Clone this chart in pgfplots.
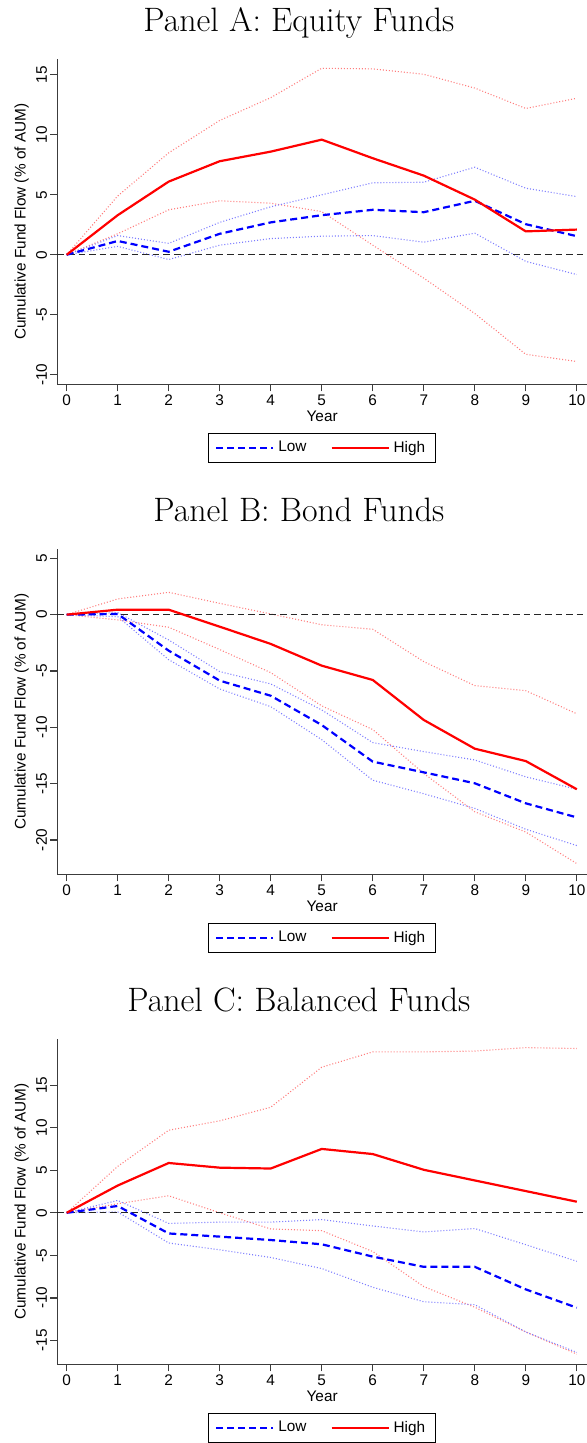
\documentclass[border=0pt]{standalone}
\usepackage{pgfplots}
\pgfplotsset{compat=1.18}
\usepackage{pgfplotstable}
\usepackage{fontspec}
\setsansfont{Liberation Sans}

\definecolor{cired}{RGB}{255,125,125}
\definecolor{ciblue}{RGB}{125,125,255}
\definecolor{axgray}{RGB}{60,60,60}

% columns: x low lowlo lowhi high highlo highhi
\pgfplotstableread{
x low lowlo lowhi high highlo highhi
0 0 0 0 0 0 0
1 1.15 0.7 1.6 3.3 1.75 4.9
2 0.25 -0.4 0.95 6.1 3.75 8.5
3 1.75 0.8 2.7 7.8 4.5 11.2
4 2.7 1.35 4.0 8.6 4.3 13.1
5 3.3 1.55 5.0 9.6 3.6 15.55
6 3.75 1.6 6.0 8.05 0.8 15.5
7 3.55 1.05 6.05 6.6 -1.95 15.05
8 4.5 1.8 7.3 4.6 -4.9 13.9
9 2.55 -0.55 5.55 1.95 -8.3 12.2
10 1.55 -1.65 4.85 2.1 -8.9 13.05
}\tabA

\pgfplotstableread{
x low lowlo lowhi high highlo highhi
0 0 0 0 0 0 0
1 0.06 -0.18 0.18 0.44 -0.47 1.39
2 -3.2 -4.0 -2.25 0.44 -1.12 1.98
3 -5.86 -6.6 -5.06 -1.07 -3.1 1.0
4 -7.2 -8.17 -6.15 -2.6 -5.15 0.06
5 -9.8 -11.1 -8.46 -4.53 -8.1 -0.9
6 -13.05 -14.7 -11.36 -5.8 -10.2 -1.3
7 -14.0 -15.9 -12.16 -9.35 -14.1 -4.17
8 -14.97 -17.2 -12.9 -11.9 -17.5 -6.3
9 -16.75 -19.05 -14.4 -13.0 -19.3 -6.75
10 -18.0 -20.5 -15.5 -15.5 -22.1 -8.8
}\tabB

\pgfplotstableread{
x low lowlo lowhi high highlo highhi
0 0 0 0 0 0 0
1 0.8 0.1 1.45 3.2 1.06 5.45
2 -2.43 -3.55 -1.25 5.85 2.0 9.7
3 -2.8 -4.35 -1.1 5.3 0 10.8
4 -3.2 -5.25 -1.1 5.2 -1.9 12.4
5 -3.7 -6.55 -0.8 7.5 -2.1 17.1
6 -5.15 -8.75 -1.55 6.9 -4.55 18.9
7 -6.35 -10.45 -2.25 5.05 -8.67 18.9
8 -6.35 -10.8 -1.85 3.8 -11.1 19.0
9 -9.0 -14.0 -3.75 2.55 -14.0 19.4
10 -11.15 -16.4 -5.7 1.3 -16.6 19.3
}\tabC

\pgfplotsset{
  panel/.style={
    width=264.85bp, height=162.5bp, scale only axis,
    anchor=south west,
    xmin=-0.184, xmax=10.2,
    xtick={0,1,...,10},
    axis x line*=bottom, axis y line*=left,
    axis line style={draw=axgray, line width=0.6bp},
    tick style={draw=axgray, line width=0.6bp},
    tick align=outside,
    major tick length=3.5bp,
    /pgf/number format/assume math mode=true,
    ticklabel style={font=\sffamily\fontsize{7.7}{9}\selectfont},
    yticklabel style={rotate=90, anchor=south, inner sep=1.5bp},
    xticklabel style={anchor=north, inner sep=1.5bp},
    every axis x label/.style={at={(axis description cs:0.5,0)}, anchor=center, yshift=-16.2bp, font=\sffamily\fontsize{7.7}{9}\selectfont},
    every axis y label/.style={at={(axis description cs:0,0.5)}, anchor=center, xshift=-17.8bp, rotate=90, font=\sffamily\fontsize{7.7}{9}\selectfont},
    xlabel={Year},
    ylabel={Cumulative Fund Flow (\% of AUM)},
    every axis title/.style={at={(axis description cs:0.456,1)}, anchor=base, yshift=13.8bp, inner sep=0pt, font=\fontsize{17}{20}\selectfont},
    legend style={at={(0.5,0)}, anchor=north, yshift=-24.5bp, draw=black, line width=0.5bp,
      font=\sffamily\fontsize{7.7}{9}\selectfont, legend columns=2,
      inner xsep=3.2bp, inner ysep=1.6bp,
      /tikz/every even column/.append style={column sep=10bp}},
    legend cell align=left,
    legend image code/.code={\draw[#1] (0bp,0bp) -- (28.5bp,0bp);},
    clip=false,
  },
  cir/.style={cired, line width=0.55bp, dash pattern=on 0.5bp off 1bp, forget plot},
  cib/.style={ciblue, line width=0.55bp, dash pattern=on 0.5bp off 1bp, forget plot},
  zl/.style={black!85, line width=0.6bp, dash pattern=on 3.3bp off 2bp, forget plot},
  lowst/.style={blue, line width=1.1bp, dash pattern=on 3.5bp off 2bp},
  highst/.style={red, line width=1.1bp},
}

\begin{document}
\begin{tikzpicture}
\useasboundingbox (0,0) rectangle (293.5bp,721.5bp);

\begin{axis}[panel, at={(28.65bp,529.35bp)}, ymin=-10.8, ymax=16.3, ytick={-10,-5,...,15},
  title={Panel A: Equity Funds}]
\addplot[cir] table[x=x,y=highhi]{\tabA};
\addplot[cir] table[x=x,y=highlo]{\tabA};
\addplot[cib] table[x=x,y=lowhi]{\tabA};
\addplot[cib] table[x=x,y=lowlo]{\tabA};
\addplot[zl] coordinates {(-0.184,0) (10.2,0)};
\addplot[lowst] table[x=x,y=low]{\tabA};
\addplot[highst] table[x=x,y=high]{\tabA};
\legend{Low,High}
\end{axis}

\begin{axis}[panel, at={(28.65bp,284.35bp)}, ymin=-23.05, ymax=5.8, ytick={-20,-15,...,5},
  title={Panel B: Bond Funds}]
\addplot[cir] table[x=x,y=highhi]{\tabB};
\addplot[cir] table[x=x,y=highlo]{\tabB};
\addplot[cib] table[x=x,y=lowhi]{\tabB};
\addplot[cib] table[x=x,y=lowlo]{\tabB};
\addplot[zl] coordinates {(-0.184,0) (10.2,0)};
\addplot[lowst] table[x=x,y=low]{\tabB};
\addplot[highst] table[x=x,y=high]{\tabB};
\legend{Low,High}
\end{axis}

\begin{axis}[panel, at={(28.65bp,39.35bp)}, ymin=-17.8, ymax=20.4, ytick={-15,-10,...,15},
  title={Panel C: Balanced Funds}]
\addplot[cir] table[x=x,y=highhi]{\tabC};
\addplot[cir] table[x=x,y=highlo]{\tabC};
\addplot[cib] table[x=x,y=lowhi]{\tabC};
\addplot[cib] table[x=x,y=lowlo]{\tabC};
\addplot[zl] coordinates {(-0.184,0) (10.2,0)};
\addplot[lowst] table[x=x,y=low]{\tabC};
\addplot[highst] table[x=x,y=high]{\tabC};
\legend{Low,High}
\end{axis}
\end{tikzpicture}
\end{document}
